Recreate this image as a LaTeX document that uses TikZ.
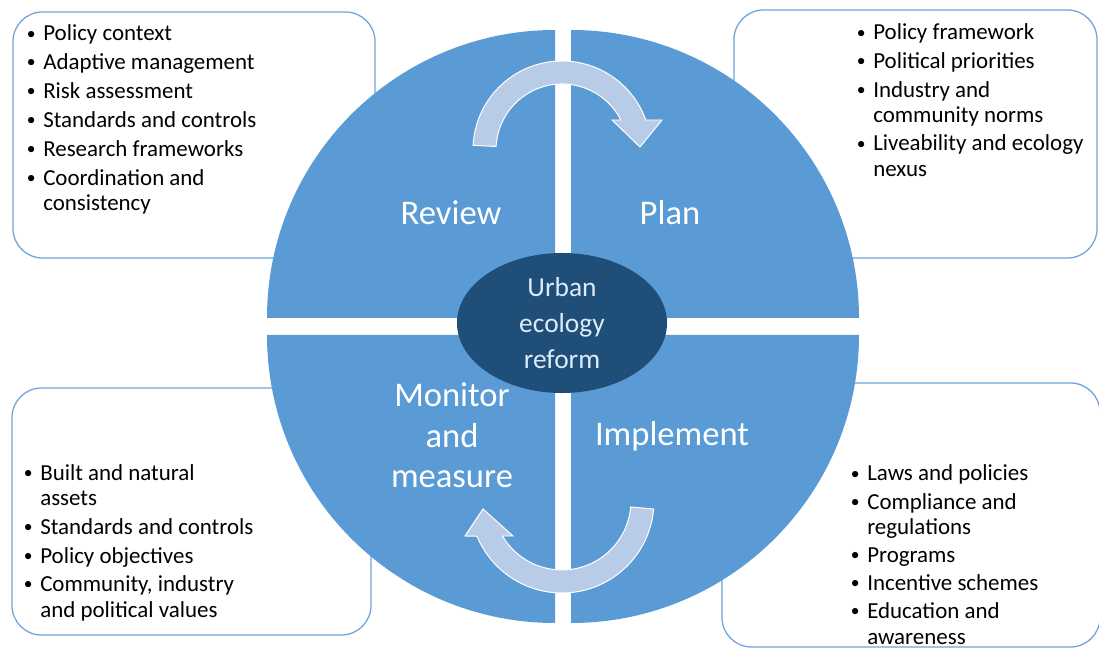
\documentclass[tikz,border=0pt]{standalone}
\usepackage{fontspec}
\setmainfont{Carlito}
\usepackage{xcolor}
\definecolor{segblue}{RGB}{91,155,213}
\definecolor{coreblue}{RGB}{31,78,121}
\definecolor{coretext}{RGB}{222,235,247}
\definecolor{cyclefill}{RGB}{184,204,232}
\definecolor{boxframe}{RGB}{110,164,218}
\usepackage{tikz}
\usetikzlibrary{shapes.geometric}
\newcommand{\bul}{\llap{\raisebox{1.3pt}{\fontsize{12.5}{12.5}\selectfont\textbullet}\hspace{5.5pt}}}
\tikzset{
  seg_fill/.style={fill=segblue,draw=none},
  seg_label/.style={text=white,inner sep=0pt,anchor=base,
    font=\fontsize{24.6}{28.5}\selectfont},
  core_ell/.style={ellipse,fill=coreblue,draw=none,
    minimum width=5.25cm,minimum height=3.5cm,inner sep=0pt,
    text=coretext,align=center,
    font=\fontsize{19.5}{25.6}\selectfont},
  info_box/.style={draw=boxframe,fill=white,line width=0.9pt,
    rounded corners=21pt},
  info_list/.style={inner sep=0pt,anchor=base west,text=black,
    font=\fontsize{16.3}{18}\selectfont},
  cyc_arrow/.style={fill=cyclefill,draw=white,line width=0.7pt},
}
\begin{document}
\begin{tikzpicture}[x=0.025cm,y=-0.025cm]

  \useasboundingbox (0,0) rectangle (1099,648);
  \fill[white] (0,0) rectangle (1099,648);
  \clip (0,0) rectangle (1099,648);

  \draw[info_box] (13,12) rectangle (375,258);
  \draw[info_box] (734,10) rectangle (1097,258);
  \draw[info_box] (12,388) rectangle (371,635);
  \draw[info_box] (722,383) rectangle (1100,647);

  \fill[seg_fill] (555,318) -- ++(-288,0)
    arc[start angle=180,end angle=270,radius=288] -- cycle;
  \fill[seg_fill] (571,318) -- ++(0,-288)
    arc[start angle=270,end angle=360,radius=288] -- cycle;
  \fill[seg_fill] (571,335) -- ++(288,0)
    arc[start angle=0,end angle=90,radius=288] -- cycle;
  \fill[seg_fill] (555,335) -- ++(0,288)
    arc[start angle=90,end angle=180,radius=288] -- cycle;

  \draw[cyc_arrow] (562,150) ++(183:89)
    arc[start angle=183,end angle=340.3,radius=89]
    -- (662,120) -- (640,147) -- (612,120) -- (620.8,120)
    arc[start angle=333,end angle=183,radius=66] -- cycle;
  \draw[cyc_arrow] (562,501) ++(5:92)
    arc[start angle=5,end angle=157.6,radius=92]
    -- (465,536) -- (483,509) -- (513,536) -- (502.5,536)
    arc[start angle=149.5,end angle=5,radius=69] -- cycle;

  \node (core) [core_ell] at (562,323) {Urban\\ecology\\reform};

  \node (review) [seg_label] at (451,225) {Review};
  \node (plan) [seg_label] at (670,225) {Plan};
  \node (implement) [seg_label] at (672,446) {Implement};
  \node (monitor) [seg_label] at (452,407)
    {\begin{tabular}[t]{@{}c@{}}Monitor\\and\\measure\end{tabular}};

  \node (reviewlist) [info_list] at (43,41) {%
    \begin{tabular}[t]{@{}l@{}}
    \bul Policy context\\[2.5pt]
    \bul Adaptive management\\[2.5pt]
    \bul Risk assessment\\[2.5pt]
    \bul Standards and controls\\[2.5pt]
    \bul Research frameworks\\[2.5pt]
    \bul Coordination and\\
    consistency
    \end{tabular}};

  \node (planlist) [info_list] at (873,40) {%
    \begin{tabular}[t]{@{}l@{}}
    \bul Policy framework\\[2.3pt]
    \bul Political priorities\\[2.3pt]
    \bul Industry and\\
    community norms\\[2.3pt]
    \bul Liveability and ecology\\
    nexus
    \end{tabular}};

  \node (monitorlist) [info_list] at (40,480.5) {%
    \begin{tabular}[t]{@{}l@{}}
    \bul Built and natural\\
    assets\\[2.5pt]
    \bul Standards and controls\\[2.3pt]
    \bul Policy objectives\\[2.3pt]
    \bul Community, industry\\
    and political values
    \end{tabular}};

  \node (implementlist) [info_list] at (867,481) {%
    \begin{tabular}[t]{@{}l@{}}
    \bul Laws and policies\\[2pt]
    \bul Compliance and\\
    regulations\\[2pt]
    \bul Programs\\[2pt]
    \bul Incentive schemes\\[2pt]
    \bul Education and\\
    awareness
    \end{tabular}};

\end{tikzpicture}
\end{document}
